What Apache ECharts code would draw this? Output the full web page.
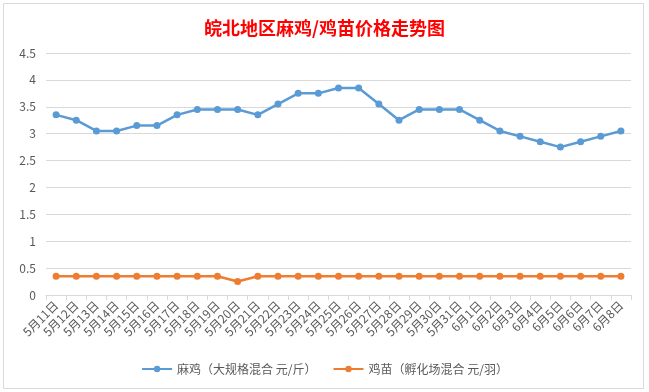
<!DOCTYPE html>
<html>
<head>
<meta charset="utf-8">
<script src="https://cdn.jsdelivr.net/npm/echarts@6/dist/echarts.min.js"></script>
<style>
html,body{margin:0;padding:0;background:#fff;}
#c{width:649px;height:392px;}
</style>
</head>
<body>
<div id="c"></div>
<script>
const categories = ['5月11日','5月12日','5月13日','5月14日','5月15日','5月16日','5月17日','5月18日','5月19日','5月20日','5月21日','5月22日','5月23日','5月24日','5月25日','5月26日','5月27日','5月28日','5月29日','5月30日','5月31日','6月1日','6月2日','6月3日','6月4日','6月5日','6月6日','6月7日','6月8日'];
const maji = [3.35,3.25,3.05,3.05,3.15,3.15,3.35,3.45,3.45,3.45,3.35,3.55,3.75,3.75,3.85,3.85,3.55,3.25,3.45,3.45,3.45,3.25,3.05,2.95,2.85,2.75,2.85,2.95,3.05];
const jimiao = [0.35,0.35,0.35,0.35,0.35,0.35,0.35,0.35,0.35,0.25,0.35,0.35,0.35,0.35,0.35,0.35,0.35,0.35,0.35,0.35,0.35,0.35,0.35,0.35,0.35,0.35,0.35,0.35,0.35];
const seriesNames = ['麻鸡（大规格混合 元/斤）','鸡苗（孵化场混合 元/羽）'];
const titleText = '皖北地区麻鸡/鸡苗价格走势图';

const chart = echarts.init(document.getElementById('c'));
const font = '"Noto Sans CJK SC", "Noto Sans", sans-serif';
chart.setOption({
  animation: false,
  textStyle: {fontFamily: font},
  graphic: [{type:'rect', shape:{x:3.5,y:3.5,width:640,height:385}, style:{fill:'none', stroke:'#d9d9d9', lineWidth:1}, silent:true, z:-1}],
  title: {text: titleText, left: 'center', top: 14, textStyle:{color:'#ff0000', fontSize:18, fontWeight:'bold', fontFamily: font}},
  legend: {bottom: 12, itemWidth: 30, itemHeight: 8, itemGap: 16, textStyle:{color:'#595959', fontSize:12}, data: seriesNames},
  grid: {left: 46, right: 18, top: 53, bottom: 97},
  xAxis: {
    type: 'category', data: categories, boundaryGap: true,
    axisLine: {lineStyle:{color:'#d9d9d9'}},
    axisTick: {show:true, alignWithLabel:false, length:5, lineStyle:{color:'#d9d9d9'}},
    axisLabel: {rotate: 45, interval: 0, color:'#595959', fontSize: 12, margin: 8}
  },
  yAxis: {
    type: 'value', min: 0, max: 4.5, interval: 0.5,
    axisLine: {show:false}, axisTick:{show:false},
    axisLabel: {color:'#595959', fontSize: 12, margin: 10},
    splitLine: {lineStyle:{color:'#d9d9d9'}}
  },
  series: [
    {name: seriesNames[0], type:'line', data: maji, symbol:'circle', symbolSize:7,
     itemStyle:{color:'#5b9bd5'}, lineStyle:{width:2.5, color:'#5b9bd5'}},
    {name: seriesNames[1], type:'line', data: jimiao, symbol:'circle', symbolSize:7,
     itemStyle:{color:'#ed7d31'}, lineStyle:{width:2.5, color:'#ed7d31'}}
  ]
});
</script>
</body>
</html>
